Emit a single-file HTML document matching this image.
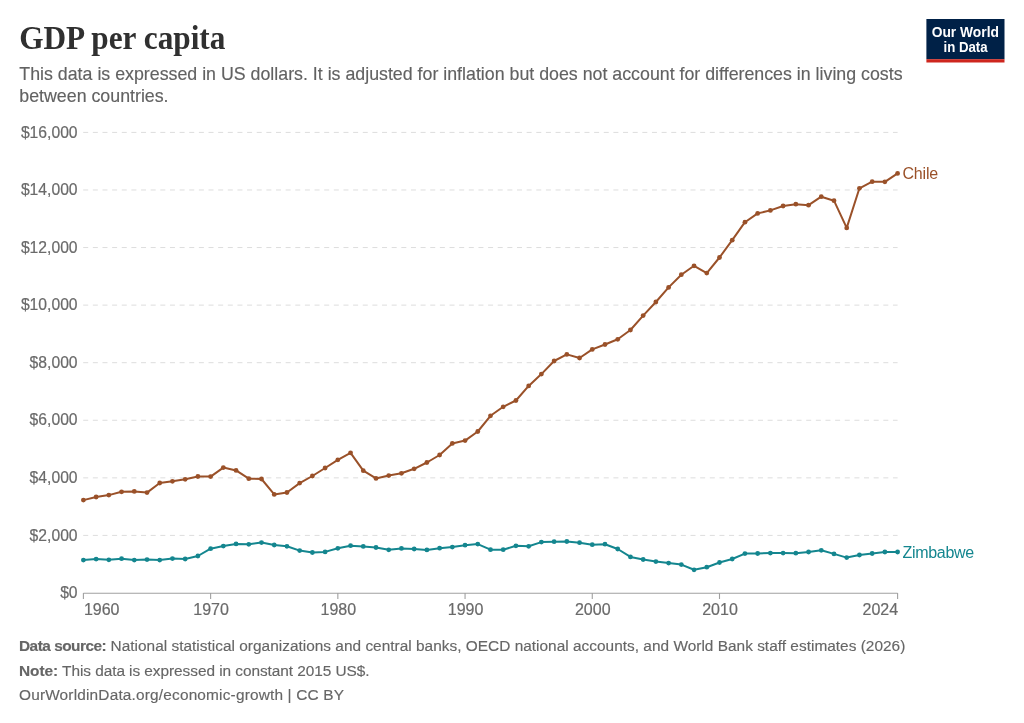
<!DOCTYPE html>
<html><head><meta charset="utf-8"><style>
html,body{margin:0;padding:0;background:#fff;}
body{width:1024px;height:723px;position:relative;overflow:hidden;font-family:"Liberation Sans",sans-serif;}
#wrap{position:absolute;left:0;top:0;width:1024px;height:723px;will-change:transform;}
.t{position:absolute;white-space:nowrap;}
#sub{left:19.3px;top:63.8px;font-size:17.8px;color:#626262;line-height:21.8px;-webkit-text-stroke:0.15px #626262;}
.foot{left:19px;font-size:15.4px;color:#666;-webkit-text-stroke:0.15px #666;}
.foot b{font-weight:bold;}
svg{position:absolute;left:0;top:0;}
</style></head><body><div id="wrap">
<div class="t" id="sub">This data is expressed in US dollars. It is adjusted for inflation but does not account for differences in living costs<br>between countries.</div>
<svg width="1024" height="723" viewBox="0 0 1024 723">
<text x="19.2" y="48.6" font-family="Liberation Serif" font-weight="bold" font-size="31.3" fill="#303030" transform="translate(0,48.6) scale(1,1.05) translate(0,-48.6)">GDP per capita</text>
<rect x="926.4" y="19" width="78.1" height="40.2" fill="#002147"/><rect x="926.4" y="59.2" width="78.1" height="3.3" fill="#ce261e"/>
<g font-family="Liberation Sans" font-weight="bold" font-size="14.7" fill="#fff" text-anchor="middle"><text x="965.3" y="37.3" transform="translate(965.3,0) scale(0.94,1) translate(-965.3,0)">Our World</text><text x="965.6" y="51.8" transform="translate(965.6,0) scale(0.90,1) translate(-965.6,0)">in Data</text></g>
<g stroke="#dddddd" stroke-width="1" stroke-dasharray="5,4.64"><line x1="83.2" y1="535.42" x2="897.6" y2="535.42"/><line x1="83.2" y1="477.85" x2="897.6" y2="477.85"/><line x1="83.2" y1="420.27" x2="897.6" y2="420.27"/><line x1="83.2" y1="362.70" x2="897.6" y2="362.70"/><line x1="83.2" y1="305.12" x2="897.6" y2="305.12"/><line x1="83.2" y1="247.55" x2="897.6" y2="247.55"/><line x1="83.2" y1="189.97" x2="897.6" y2="189.97"/><line x1="83.2" y1="132.40" x2="897.6" y2="132.40"/></g>
<g font-family="Liberation Sans" font-size="15.7" fill="#6a6a6a" stroke="#6a6a6a" stroke-width="0.2" text-anchor="end"><text x="77.6" y="598.20">$0</text><text x="77.6" y="540.62">$2,000</text><text x="77.6" y="483.05">$4,000</text><text x="77.6" y="425.47">$6,000</text><text x="77.6" y="367.90">$8,000</text><text x="77.6" y="310.32">$10,000</text><text x="77.6" y="252.75">$12,000</text><text x="77.6" y="195.17">$14,000</text><text x="77.6" y="137.60">$16,000</text></g>
<g stroke="#a0a0a0" stroke-width="1.1"><line x1="83.40" y1="593" x2="83.40" y2="599"/><line x1="210.62" y1="593" x2="210.62" y2="599"/><line x1="337.84" y1="593" x2="337.84" y2="599"/><line x1="465.06" y1="593" x2="465.06" y2="599"/><line x1="592.27" y1="593" x2="592.27" y2="599"/><line x1="719.49" y1="593" x2="719.49" y2="599"/><line x1="897.60" y1="593" x2="897.60" y2="599"/><line x1="83.4" y1="593.2" x2="897.6" y2="593.2"/></g>
<g font-family="Liberation Sans" font-size="16" fill="#6a6a6a" stroke="#6a6a6a" stroke-width="0.2"><text x="83.90" y="614.9" text-anchor="start">1960</text><text x="211.12" y="614.9" text-anchor="middle">1970</text><text x="338.34" y="614.9" text-anchor="middle">1980</text><text x="465.56" y="614.9" text-anchor="middle">1990</text><text x="592.77" y="614.9" text-anchor="middle">2000</text><text x="719.99" y="614.9" text-anchor="middle">2010</text><text x="898.10" y="614.9" text-anchor="end">2024</text></g>
<polyline fill="none" stroke="#9a5129" stroke-width="2" stroke-linejoin="round" points="83.40,500.10 96.12,497.00 108.84,495.10 121.57,491.80 134.29,491.40 147.01,492.60 159.73,483.00 172.45,481.30 185.18,479.30 197.90,476.50 210.62,476.60 223.34,467.60 236.06,470.40 248.78,478.70 261.51,479.00 274.23,494.40 286.95,492.50 299.67,483.10 312.39,476.00 325.12,468.00 337.84,459.80 350.56,452.80 363.28,470.70 376.00,478.40 388.73,475.60 401.45,473.30 414.17,468.80 426.89,462.50 439.61,455.00 452.33,443.40 465.06,440.60 477.78,431.50 490.50,415.80 503.22,406.80 515.94,400.50 528.67,385.90 541.39,374.10 554.11,361.00 566.83,354.40 579.55,358.00 592.27,349.40 605.00,344.50 617.72,339.30 630.44,330.00 643.16,315.60 655.88,302.00 668.61,287.40 681.33,274.70 694.05,265.80 706.77,273.10 719.49,257.50 732.22,240.20 744.94,222.20 757.66,213.40 770.38,210.40 783.10,206.00 795.83,204.20 808.55,205.20 821.27,196.70 833.99,200.70 846.71,227.90 859.43,188.30 872.16,181.70 884.88,181.80 897.60,173.40"/>
<g fill="#9a5129"><circle cx="83.40" cy="500.10" r="2.4"/><circle cx="96.12" cy="497.00" r="2.4"/><circle cx="108.84" cy="495.10" r="2.4"/><circle cx="121.57" cy="491.80" r="2.4"/><circle cx="134.29" cy="491.40" r="2.4"/><circle cx="147.01" cy="492.60" r="2.4"/><circle cx="159.73" cy="483.00" r="2.4"/><circle cx="172.45" cy="481.30" r="2.4"/><circle cx="185.18" cy="479.30" r="2.4"/><circle cx="197.90" cy="476.50" r="2.4"/><circle cx="210.62" cy="476.60" r="2.4"/><circle cx="223.34" cy="467.60" r="2.4"/><circle cx="236.06" cy="470.40" r="2.4"/><circle cx="248.78" cy="478.70" r="2.4"/><circle cx="261.51" cy="479.00" r="2.4"/><circle cx="274.23" cy="494.40" r="2.4"/><circle cx="286.95" cy="492.50" r="2.4"/><circle cx="299.67" cy="483.10" r="2.4"/><circle cx="312.39" cy="476.00" r="2.4"/><circle cx="325.12" cy="468.00" r="2.4"/><circle cx="337.84" cy="459.80" r="2.4"/><circle cx="350.56" cy="452.80" r="2.4"/><circle cx="363.28" cy="470.70" r="2.4"/><circle cx="376.00" cy="478.40" r="2.4"/><circle cx="388.73" cy="475.60" r="2.4"/><circle cx="401.45" cy="473.30" r="2.4"/><circle cx="414.17" cy="468.80" r="2.4"/><circle cx="426.89" cy="462.50" r="2.4"/><circle cx="439.61" cy="455.00" r="2.4"/><circle cx="452.33" cy="443.40" r="2.4"/><circle cx="465.06" cy="440.60" r="2.4"/><circle cx="477.78" cy="431.50" r="2.4"/><circle cx="490.50" cy="415.80" r="2.4"/><circle cx="503.22" cy="406.80" r="2.4"/><circle cx="515.94" cy="400.50" r="2.4"/><circle cx="528.67" cy="385.90" r="2.4"/><circle cx="541.39" cy="374.10" r="2.4"/><circle cx="554.11" cy="361.00" r="2.4"/><circle cx="566.83" cy="354.40" r="2.4"/><circle cx="579.55" cy="358.00" r="2.4"/><circle cx="592.27" cy="349.40" r="2.4"/><circle cx="605.00" cy="344.50" r="2.4"/><circle cx="617.72" cy="339.30" r="2.4"/><circle cx="630.44" cy="330.00" r="2.4"/><circle cx="643.16" cy="315.60" r="2.4"/><circle cx="655.88" cy="302.00" r="2.4"/><circle cx="668.61" cy="287.40" r="2.4"/><circle cx="681.33" cy="274.70" r="2.4"/><circle cx="694.05" cy="265.80" r="2.4"/><circle cx="706.77" cy="273.10" r="2.4"/><circle cx="719.49" cy="257.50" r="2.4"/><circle cx="732.22" cy="240.20" r="2.4"/><circle cx="744.94" cy="222.20" r="2.4"/><circle cx="757.66" cy="213.40" r="2.4"/><circle cx="770.38" cy="210.40" r="2.4"/><circle cx="783.10" cy="206.00" r="2.4"/><circle cx="795.83" cy="204.20" r="2.4"/><circle cx="808.55" cy="205.20" r="2.4"/><circle cx="821.27" cy="196.70" r="2.4"/><circle cx="833.99" cy="200.70" r="2.4"/><circle cx="846.71" cy="227.90" r="2.4"/><circle cx="859.43" cy="188.30" r="2.4"/><circle cx="872.16" cy="181.70" r="2.4"/><circle cx="884.88" cy="181.80" r="2.4"/><circle cx="897.60" cy="173.40" r="2.4"/></g>
<polyline fill="none" stroke="#14868f" stroke-width="2" stroke-linejoin="round" points="83.40,560.10 96.12,559.10 108.84,559.80 121.57,558.70 134.29,560.10 147.01,559.60 159.73,560.10 172.45,558.60 185.18,559.00 197.90,556.00 210.62,548.70 223.34,546.10 236.06,543.90 248.78,544.30 261.51,542.60 274.23,545.00 286.95,546.30 299.67,550.60 312.39,552.50 325.12,551.90 337.84,548.30 350.56,545.70 363.28,546.40 376.00,547.50 388.73,549.80 401.45,548.40 414.17,549.00 426.89,549.90 439.61,548.20 452.33,547.10 465.06,545.20 477.78,544.10 490.50,549.70 503.22,549.70 515.94,545.80 528.67,546.30 541.39,542.10 554.11,541.70 566.83,541.50 579.55,542.70 592.27,544.70 605.00,544.20 617.72,549.00 630.44,556.90 643.16,559.50 655.88,561.60 668.61,563.10 681.33,564.60 694.05,569.80 706.77,567.20 719.49,562.50 732.22,559.00 744.94,553.60 757.66,553.50 770.38,553.10 783.10,553.10 795.83,553.20 808.55,552.00 821.27,550.30 833.99,553.90 846.71,557.60 859.43,555.00 872.16,553.50 884.88,552.00 897.60,552.00"/>
<g fill="#14868f"><circle cx="83.40" cy="560.10" r="2.4"/><circle cx="96.12" cy="559.10" r="2.4"/><circle cx="108.84" cy="559.80" r="2.4"/><circle cx="121.57" cy="558.70" r="2.4"/><circle cx="134.29" cy="560.10" r="2.4"/><circle cx="147.01" cy="559.60" r="2.4"/><circle cx="159.73" cy="560.10" r="2.4"/><circle cx="172.45" cy="558.60" r="2.4"/><circle cx="185.18" cy="559.00" r="2.4"/><circle cx="197.90" cy="556.00" r="2.4"/><circle cx="210.62" cy="548.70" r="2.4"/><circle cx="223.34" cy="546.10" r="2.4"/><circle cx="236.06" cy="543.90" r="2.4"/><circle cx="248.78" cy="544.30" r="2.4"/><circle cx="261.51" cy="542.60" r="2.4"/><circle cx="274.23" cy="545.00" r="2.4"/><circle cx="286.95" cy="546.30" r="2.4"/><circle cx="299.67" cy="550.60" r="2.4"/><circle cx="312.39" cy="552.50" r="2.4"/><circle cx="325.12" cy="551.90" r="2.4"/><circle cx="337.84" cy="548.30" r="2.4"/><circle cx="350.56" cy="545.70" r="2.4"/><circle cx="363.28" cy="546.40" r="2.4"/><circle cx="376.00" cy="547.50" r="2.4"/><circle cx="388.73" cy="549.80" r="2.4"/><circle cx="401.45" cy="548.40" r="2.4"/><circle cx="414.17" cy="549.00" r="2.4"/><circle cx="426.89" cy="549.90" r="2.4"/><circle cx="439.61" cy="548.20" r="2.4"/><circle cx="452.33" cy="547.10" r="2.4"/><circle cx="465.06" cy="545.20" r="2.4"/><circle cx="477.78" cy="544.10" r="2.4"/><circle cx="490.50" cy="549.70" r="2.4"/><circle cx="503.22" cy="549.70" r="2.4"/><circle cx="515.94" cy="545.80" r="2.4"/><circle cx="528.67" cy="546.30" r="2.4"/><circle cx="541.39" cy="542.10" r="2.4"/><circle cx="554.11" cy="541.70" r="2.4"/><circle cx="566.83" cy="541.50" r="2.4"/><circle cx="579.55" cy="542.70" r="2.4"/><circle cx="592.27" cy="544.70" r="2.4"/><circle cx="605.00" cy="544.20" r="2.4"/><circle cx="617.72" cy="549.00" r="2.4"/><circle cx="630.44" cy="556.90" r="2.4"/><circle cx="643.16" cy="559.50" r="2.4"/><circle cx="655.88" cy="561.60" r="2.4"/><circle cx="668.61" cy="563.10" r="2.4"/><circle cx="681.33" cy="564.60" r="2.4"/><circle cx="694.05" cy="569.80" r="2.4"/><circle cx="706.77" cy="567.20" r="2.4"/><circle cx="719.49" cy="562.50" r="2.4"/><circle cx="732.22" cy="559.00" r="2.4"/><circle cx="744.94" cy="553.60" r="2.4"/><circle cx="757.66" cy="553.50" r="2.4"/><circle cx="770.38" cy="553.10" r="2.4"/><circle cx="783.10" cy="553.10" r="2.4"/><circle cx="795.83" cy="553.20" r="2.4"/><circle cx="808.55" cy="552.00" r="2.4"/><circle cx="821.27" cy="550.30" r="2.4"/><circle cx="833.99" cy="553.90" r="2.4"/><circle cx="846.71" cy="557.60" r="2.4"/><circle cx="859.43" cy="555.00" r="2.4"/><circle cx="872.16" cy="553.50" r="2.4"/><circle cx="884.88" cy="552.00" r="2.4"/><circle cx="897.60" cy="552.00" r="2.4"/></g>
<text x="902.5" y="179.4" font-family="Liberation Sans" font-size="16" letter-spacing="-0.2" fill="#9a5129">Chile</text>
<text x="902.5" y="557.7" font-family="Liberation Sans" font-size="16" letter-spacing="-0.3" fill="#14868f">Zimbabwe</text>
</svg>
<div class="t foot" style="top:637.3px;letter-spacing:0.02px"><b id="b1" style="letter-spacing:-0.5px">Data source:</b> <span id="r1">National statistical organizations and central banks, OECD national accounts, and World Bank staff estimates (2026)</span></div>
<div class="t foot" style="top:661.5px;letter-spacing:-0.05px"><b id="b2">Note:</b> <span id="r2">This data is expressed in constant 2015 US$.</span></div>
<div class="t foot" style="top:685.7px;letter-spacing:0.18px"><span id="r3">OurWorldinData.org/economic-growth | CC BY</span></div>
</div></body></html>
